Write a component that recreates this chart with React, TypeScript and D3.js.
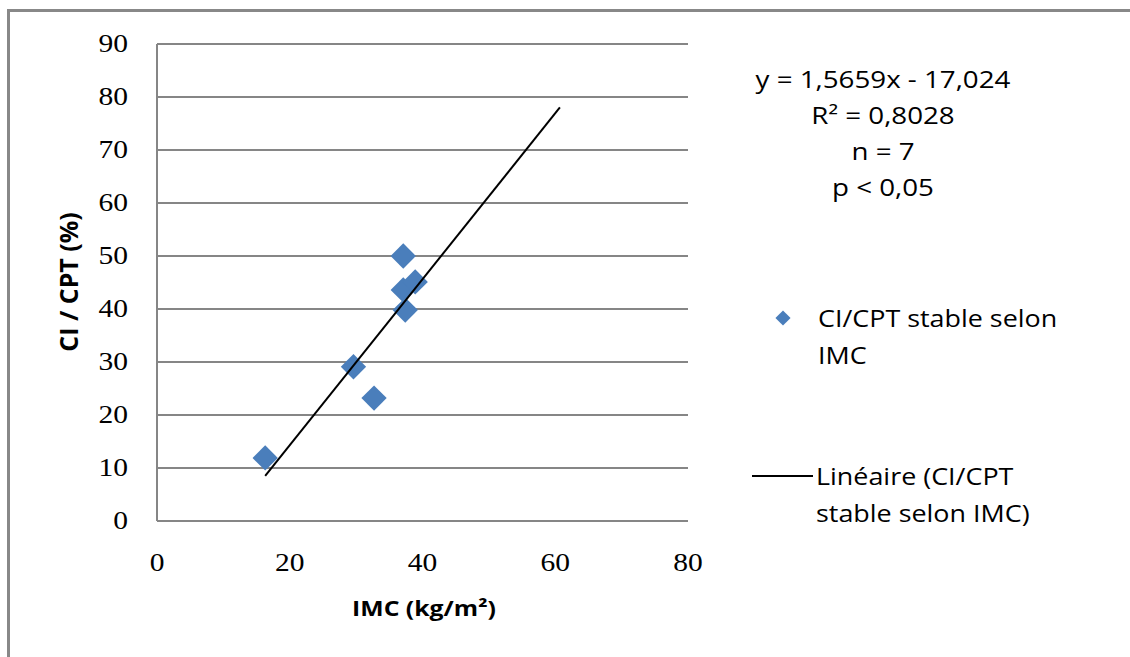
import React from "react";
import * as d3 from "d3";

// ---- data ----
const imc = [16.3, 29.6, 32.7, 37.1, 37.1, 38.9, 37.4];
const ciCpt = [11.9, 29.1, 23.2, 50.0, 43.6, 45.1, 39.8];
const xTicks = [0, 20, 40, 60, 80];
const yTicks = [0, 10, 20, 30, 40, 50, 60, 70, 80, 90];
const trendSlope = 1.5659;
const trendIntercept = -17.024;
const trendXRange = [16.3, 60.7];
const statLines = ["y = 1,5659x - 17,024", "R² = 0,8028", "n = 7", "p < 0,05"];
const seriesLabel = ["CI/CPT stable selon", "IMC"];
const trendLabel = ["Linéaire (CI/CPT", "stable selon IMC)"];

const W = 1130;
const H = 657;
const SX = 1.18; // horizontal stretch of text in reference
const gridColor = "#868686";
const markerColor = "#4A7EBB";

const St = ({ x, y, anchor = "start", size, family, weight = "normal", children }: any) => (
  <text
    transform={`translate(${x},${y}) scale(${SX},1)`}
    textAnchor={anchor}
    dominantBaseline="central"
    fontSize={size}
    fontFamily={family}
    fontWeight={weight}
    fill="#000"
  >
    {children}
  </text>
);

export default function App() {
  const x = d3.scaleLinear().domain([0, 80]).range([157, 688]);
  const y = d3.scaleLinear().domain([0, 90]).range([521, 44]);
  const diamond = d3.symbol().type(d3.symbolSquare).size(320)();
  const legendDiamond = d3.symbol().type(d3.symbolSquare).size(115)();
  const trend = d3
    .line<number>()
    .x((v) => x(v))
    .y((v) => y(trendSlope * v + trendIntercept));

  const serif = "'Liberation Serif', 'Times New Roman', serif";
  const sans = "'Open Sans', 'Liberation Sans', sans-serif";

  return (
    <svg
      width={W}
      height={H}
      style={{ position: "absolute", left: 0, top: 0, background: "#fff" }}
    >
      <rect x={0} y={0} width={W} height={H} fill="#fff" />
      {/* outer chart border */}
      <rect x={8.5} y={10.5} width={1140} height={680} fill="none" stroke="#888" strokeWidth={3} />

      {/* gridlines */}
      {yTicks.map((t) => (
        <line key={"g" + t} x1={x(0)} x2={x(80)} y1={y(t)} y2={y(t)} stroke={gridColor} strokeWidth={2} />
      ))}
      {/* y axis line */}
      <line x1={x(0)} x2={x(0)} y1={y(90)} y2={y(0)} stroke={gridColor} strokeWidth={2} />

      {/* y tick labels */}
      {yTicks.map((t) => (
        <St key={"yl" + t} x={128} y={y(t)} anchor="end" size={25} family={serif}>
          {t}
        </St>
      ))}
      {/* x tick labels */}
      {xTicks.map((t) => (
        <St key={"xl" + t} x={x(t)} y={563} anchor="middle" size={25} family={serif}>
          {t}
        </St>
      ))}

      {/* axis titles */}
      <St x={424} y={608} anchor="middle" size={21} family={sans} weight="bold">
        IMC (kg/m²)
      </St>
      <text
        transform={`translate(68,282) rotate(-90)`}
        textAnchor="middle"
        dominantBaseline="central"
        fontSize={25}
        fontFamily={sans}
        fontWeight="bold"
      >
        CI / CPT (%)
      </text>

      {/* markers */}
      {imc.map((v, i) => (
        <path
          key={"m" + i}
          d={diamond}
          transform={`translate(${x(v)},${y(ciCpt[i])}) rotate(45)`}
          fill={markerColor}
        />
      ))}

      {/* trend line */}
      <path d={trend(trendXRange) || ""} fill="none" stroke="#000" strokeWidth={2} />

      {/* stats */}
      {statLines.map((s, i) => (
        <St key={"s" + i} x={883} y={79 + i * 36} anchor="middle" size={23.5} family={sans}>
          {s}
        </St>
      ))}

      {/* legend */}
      <path d={legendDiamond} transform={`translate(783,318) rotate(45)`} fill={markerColor} />
      {seriesLabel.map((s, i) => (
        <St key={"l" + i} x={818} y={318 + i * 37} size={22.8} family={sans}>
          {s}
        </St>
      ))}
      <line x1={752} x2={813} y1={476} y2={476} stroke="#000" strokeWidth={2} />
      {trendLabel.map((s, i) => (
        <St key={"t" + i} x={816} y={476 + i * 37} size={22.8} family={sans}>
          {s}
        </St>
      ))}
    </svg>
  );
}
